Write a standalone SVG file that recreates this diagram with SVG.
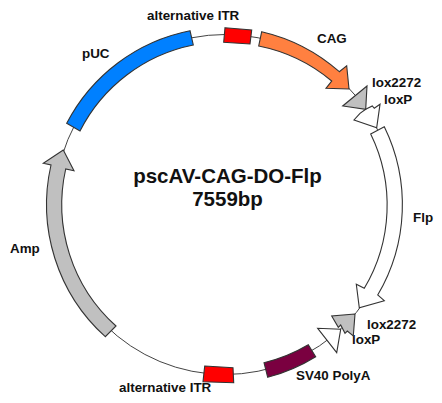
<svg xmlns="http://www.w3.org/2000/svg" width="442" height="403" viewBox="0 0 442 403">
<style>
.f{stroke:#333;stroke-width:1.1;stroke-linejoin:miter}
.l{font-family:"Liberation Sans",Arial,sans-serif;font-weight:bold;font-size:13.4px;fill:#111}
.t{font-family:"Liberation Sans",Arial,sans-serif;font-weight:bold;font-size:20.5px;fill:#111;text-anchor:middle}
</style>
<rect width="442" height="403" fill="#fff"/>
<g id="connectors"><circle cx="225" cy="204.5" r="170" fill="none" stroke="#444" stroke-width="1"/></g>
<g id="node-puc"><path class="f" fill="#0080ff" d="M190 30.7L193.3 45A163 163 0 0 0 80 131L66.7 123.3A178 178 0 0 1 190 30.7Z"/><text class="l" x="82" y="58">pUC</text></g>
<g id="node-itr-top"><path class="f" fill="#f00" d="M225 27.7L251.7 30L250 44L223.7 42.3Z"/><text class="l" x="147" y="20">alternative ITR</text></g>
<g id="node-cag"><path class="f" fill="#ff8040" d="M261.7 31.7L258.7 46A163 163 0 0 1 331.7 81L326 88.3L349 89L346.7 65.7L339.3 71.7A178 178 0 0 0 261.7 31.7Z"/><text class="l" x="317" y="43">CAG</text></g>
<g id="node-loxp-top"><path class="f" fill="#fff" d="M380 104.3L376.7 127.7L354 120L360 113.3L365.7 109.3L372.3 106L374.3 108.3Z"/><text class="l" x="384" y="104">loxP</text></g>
<g id="node-lox2272-top"><path class="f" fill="#c0c0c0" d="M367 86L342.7 106L365.7 109.3Z"/><text class="l" x="372" y="87">lox2272</text></g>
<g id="node-flp"><path class="f" fill="#fff" d="M384.3 126.7L370.7 134A162.5 162.5 0 0 1 364.3 288.3L356.3 284.3L359.3 307.7L384.3 300.7L377.7 295A177.5 177.5 0 0 0 384.3 126.7Z"/><text class="l" x="413" y="222">Flp</text></g>
<g id="node-loxp-bottom"><path class="f" fill="#fff" d="M317.7 328.3L336.7 352.7L340.7 329.3Z"/><text class="l" x="352" y="344">loxP</text></g>
<g id="node-lox2272-bottom"><path class="f" fill="#c0c0c0" d="M355 314L331.7 316L338.3 327.3L340.7 325L345 333.3L347.3 331L353.3 336Z"/><text class="l" x="367" y="329">lox2272</text></g>
<g id="node-sv40"><path class="f" fill="#7a0040" d="M264 362.7A163 163 0 0 0 308.3 344.7L315.7 356.7A178 178 0 0 1 267.7 377.3Z"/><text class="l" x="296" y="380">SV40 PolyA</text></g>
<g id="node-itr-bottom"><path class="f" fill="#f00" d="M204.7 366L233 367.7L233.7 382.7L203 381.7Z"/><text class="l" x="119" y="392">alternative ITR</text></g>
<g id="node-amp"><path class="f" fill="#c0c0c0" d="M63.3 150L43.3 163.3L51 165A178 178 0 0 0 105.3 336.7L116 326A163 163 0 0 1 65.7 169L74 170.7Z"/><text class="l" x="10" y="253">Amp</text></g>
<g id="title"><text class="t" x="227.5" y="182.5">pscAV-CAG-DO-Flp</text><text class="t" x="227.5" y="205.5">7559bp</text></g>
</svg>
